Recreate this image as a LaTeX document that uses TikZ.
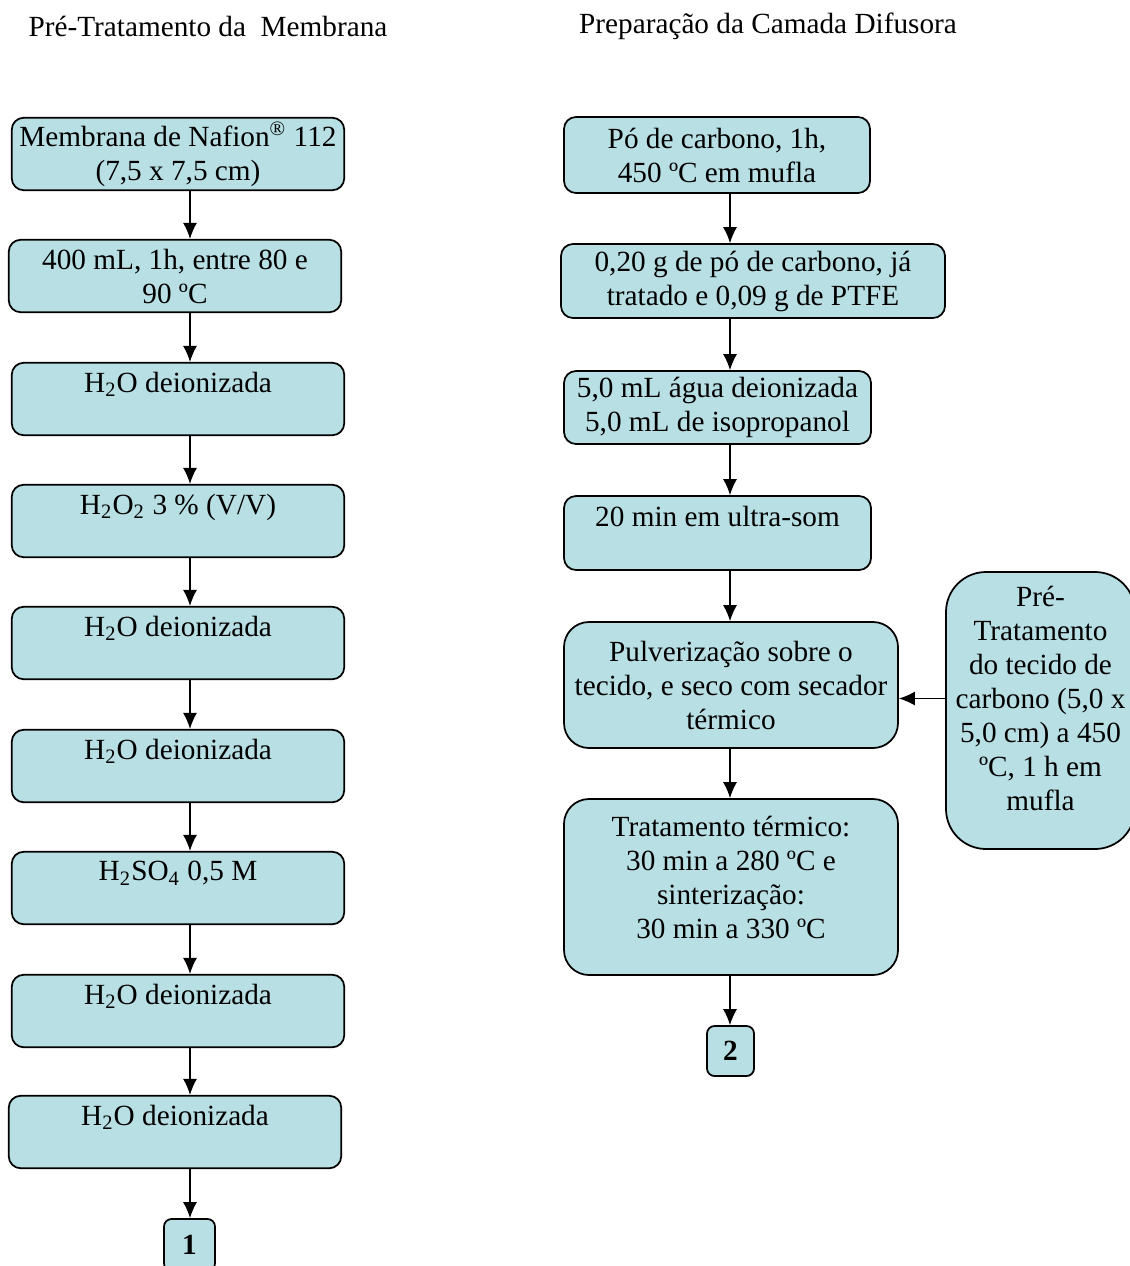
\documentclass[tikz,border=0pt]{standalone}
\usepackage{fontspec}
\setmainfont{Liberation Serif}
\usetikzlibrary{arrows.meta}
\definecolor{boxblue}{RGB}{184,223,227}

\tikzset{
    stepbox/.style={draw=black, line width=0.7pt, fill=boxblue, rounded corners=4.8pt,
        align=center, inner sep=1pt, font=\fontsize{11.7}{13.6}\selectfont},
    flow/.style={-{Latex[length=6.4pt,width=5.6pt]}, line width=0.55pt}
}

\begin{document}
\begin{tikzpicture}[x=0.4pt, y=-0.4pt]
        \useasboundingbox (0,0) rectangle (1129,1266);
        % titulos
        \node[font=\fontsize{11.7}{13.6}\selectfont] (tmem) at (208,26) {Pré-Tratamento da\ \ Membrana};
        \node[font=\fontsize{11.7}{13.6}\selectfont] (tdif) at (768,26) {Preparação da Camada Difusora};
        \coordinate (lx) at (190,0);
        \coordinate (rx) at (730,0);
        % membrana
        \foreach \n/\x/\y/\t in {
            m1/178/154/{Membrana de Nafion\textsuperscript{\textregistered} 112\\(7,5 x 7,5 cm)},
            m2/175/276/{400 mL, 1h, entre 80 e\\90 ºC},
            m3/178/399/{H\textsubscript{2}O deionizada\\~},
            m4/178/521/{H\textsubscript{2}O\textsubscript{2} 3 \% (V/V)\\~},
            m5/178/643/{H\textsubscript{2}O deionizada\\~},
            m6/178/766/{H\textsubscript{2}O deionizada\\~},
            m7/178/888/{H\textsubscript{2}SO\textsubscript{4} 0,5 M\\~},
            m8/178/1011/{H\textsubscript{2}O deionizada\\~},
            m9/175/1132/{H\textsubscript{2}O deionizada\\~}}{
            \node[stepbox, minimum width=133pt, minimum height=29pt] (\n) at (\x,\y) {\t};
        }
        \node[stepbox, rounded corners=3pt, minimum width=20.4pt, minimum height=20.8pt] (m10) at (189.5,1245) {\textbf{1}};
        \foreach \a/\b in {m1/m2,m2/m3,m3/m4,m4/m5,m5/m6,m6/m7,m7/m8,m8/m9,m9/m10}{
            \draw[flow] (\a.south -| lx) -- (\b.north -| lx);
        }
        % camada difusora
        \node[stepbox, minimum width=122.4pt, minimum height=30.4pt] (d1) at (717,155) {Pó de carbono, 1h,\\450 ºC em mufla};
        \node[stepbox, minimum width=153.6pt, minimum height=29.6pt] (d2) at (753,281) {0,20 g de pó de carbono, já\\tratado e 0,09 g de PTFE};
        \node[stepbox, minimum width=122.8pt, minimum height=29.2pt] (d3) at (717.5,407.5) {5,0 mL água deionizada\\5,0 mL de isopropanol};
        \node[stepbox, minimum width=122.8pt, minimum height=29.6pt] (d4) at (717.5,533) {20 min em ultra-som\\~};
        \node[stepbox, rounded corners=10pt, minimum width=133.6pt, minimum height=50.4pt] (d5) at (731,685) {Pulverização sobre o\\tecido, e seco com secador\\térmico};
        \node[stepbox, rounded corners=10pt, minimum width=133.6pt, minimum height=70.4pt] (d6) at (731,887) {Tratamento térmico:\\30 min a 280 ºC e\\sinterização:\\30 min a 330 ºC\\[-6pt]~};
        \node[stepbox, rounded corners=3pt, minimum width=18.8pt, minimum height=20pt] (d7) at (730.5,1051) {\textbf{2}};
        \node[stepbox, rounded corners=16pt, minimum width=75.6pt, minimum height=110.8pt] (tec) at (1040.5,710.5) {Pré-\\Tratamento\\do tecido de\\carbono (5,0 x\\5,0 cm) a 450\\ºC, 1 h em\\mufla\\[-4pt]~};
        \foreach \a/\b in {d1/d2,d2/d3,d3/d4,d4/d5,d5/d6,d6/d7}{
            \draw[flow] (\a.south -| rx) -- (\b.north -| rx);
        }
        \draw[flow] ([yshift=4.8pt]tec.west) -- ([yshift=4.8pt]tec.west -| d5.east);
    \end{tikzpicture}
\end{document}
